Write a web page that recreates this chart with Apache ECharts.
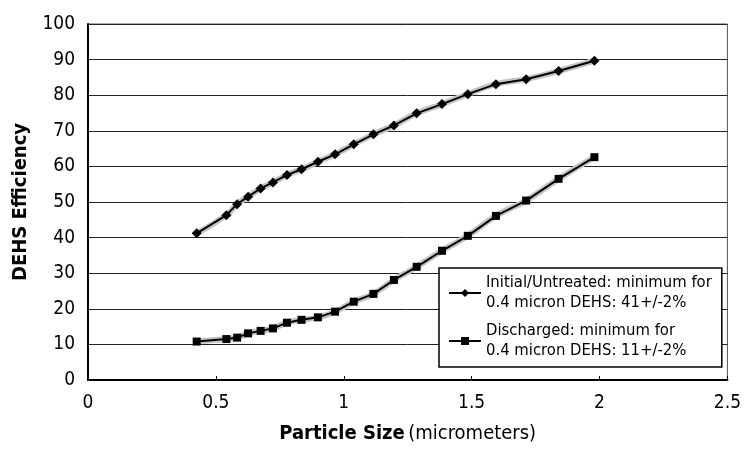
<!DOCTYPE html>
<html>
<head>
<meta charset="utf-8">
<script src="https://cdn.jsdelivr.net/npm/echarts@6/dist/echarts.min.js"></script>
<style>
html, body { margin: 0; padding: 0; background: #fff; }
#chart { width: 744px; height: 459px; }
</style>
</head>
<body>
<div id="chart"></div>
<script>
var FONT = "'DejaVu Sans Condensed', 'Liberation Sans Narrow', sans-serif";

// particle size (micrometers)
var sizes = [0.425, 0.541, 0.583, 0.626, 0.675, 0.723, 0.778, 0.835, 0.899, 0.966,
             1.039, 1.116, 1.196, 1.285, 1.384, 1.485, 1.595, 1.713, 1.840, 1.980];
// efficiency (%)
var initialEff = [41.2, 46.3, 49.4, 51.5, 53.8, 55.5, 57.6, 59.2, 61.3, 63.4,
                  66.2, 69.0, 71.5, 74.9, 77.5, 80.3, 83.1, 84.5, 86.8, 89.7];
var dischargedEff = [10.8, 11.5, 11.9, 13.1, 13.8, 14.5, 16.1, 16.9, 17.6, 19.2,
                     22.0, 24.2, 28.1, 31.8, 36.3, 40.5, 46.1, 50.4, 56.5, 62.6];
var seriesNames = ['Initial/Untreated: minimum for\n0.4 micron DEHS: 41+/-2%',
                   'Discharged: minimum for\n0.4 micron DEHS: 11+/-2%'];

function pairs(xs, ys) {
    var out = [];
    for (var i = 0; i < xs.length; i++) out.push([xs[i], ys[i]]);
    return out;
}

var myChart = echarts.init(document.getElementById('chart'));

function shadowSeries(ys) {
    return {
        type: 'line',
        data: pairs(sizes, ys),
        smooth: true,
        showSymbol: false,
        silent: true,
        z: 1,
        lineStyle: { color: '#c4c4c4', width: 6 }
    };
}

var option = {
    backgroundColor: '#fff',
    animation: false,
    textStyle: { fontFamily: FONT },
    grid: {
        left: 88, right: 11, top: 24, bottom: 79,
        show: true, borderColor: '#555', borderWidth: 1
    },
    legend: {
        orient: 'vertical',
        left: 439, top: 268,
        padding: [5, 10, 6, 9],
        itemGap: 8,
        itemWidth: 32, itemHeight: 10,
        backgroundColor: '#fff',
        borderColor: '#000', borderWidth: 1.5,
        data: seriesNames,
        textStyle: { fontFamily: FONT, fontSize: 16.5, color: '#000', lineHeight: 20 }
    },
    xAxis: {
        type: 'value',
        min: 0, max: 2.5, interval: 0.5,
        name: '{b|Particle Size} {r|(micrometers)}',
        nameLocation: 'middle',
        nameGap: 44,
        nameTextStyle: {
            rich: {
                b: { fontFamily: FONT, fontSize: 20, fontWeight: 'bold', color: '#000' },
                r: { fontFamily: FONT, fontSize: 20, color: '#000' }
            }
        },
        axisLine: { lineStyle: { color: '#000', width: 2 } },
        axisTick: { inside: true, length: 4, lineStyle: { color: '#000' } },
        axisLabel: { fontFamily: FONT, fontSize: 19, color: '#000', margin: 14 },
        splitLine: { show: false }
    },
    yAxis: {
        type: 'value',
        min: 0, max: 100, interval: 10,
        name: 'DEHS Efficiency',
        nameLocation: 'middle',
        nameGap: 57,
        nameTextStyle: { fontFamily: FONT, fontSize: 20, fontWeight: 'bold', color: '#000' },
        axisLine: { show: true, lineStyle: { color: '#000', width: 2 } },
        axisTick: { show: false },
        axisLabel: { fontFamily: FONT, fontSize: 19, color: '#000', margin: 13 },
        splitLine: { show: true, lineStyle: { color: '#222', width: 1 } }
    },
    series: [
        shadowSeries(initialEff),
        shadowSeries(dischargedEff),
        {
            name: seriesNames[0],
            type: 'line',
            data: pairs(sizes, initialEff),
            symbol: 'diamond',
            symbolSize: 10,
            z: 3,
            itemStyle: { color: '#000' },
            lineStyle: { color: '#000', width: 2 }
        },
        {
            name: seriesNames[1],
            type: 'line',
            data: pairs(sizes, dischargedEff),
            symbol: 'rect',
            symbolSize: 8,
            z: 3,
            itemStyle: { color: '#000' },
            lineStyle: { color: '#000', width: 2 }
        }
    ]
};

myChart.setOption(option);
</script>
</body>
</html>
